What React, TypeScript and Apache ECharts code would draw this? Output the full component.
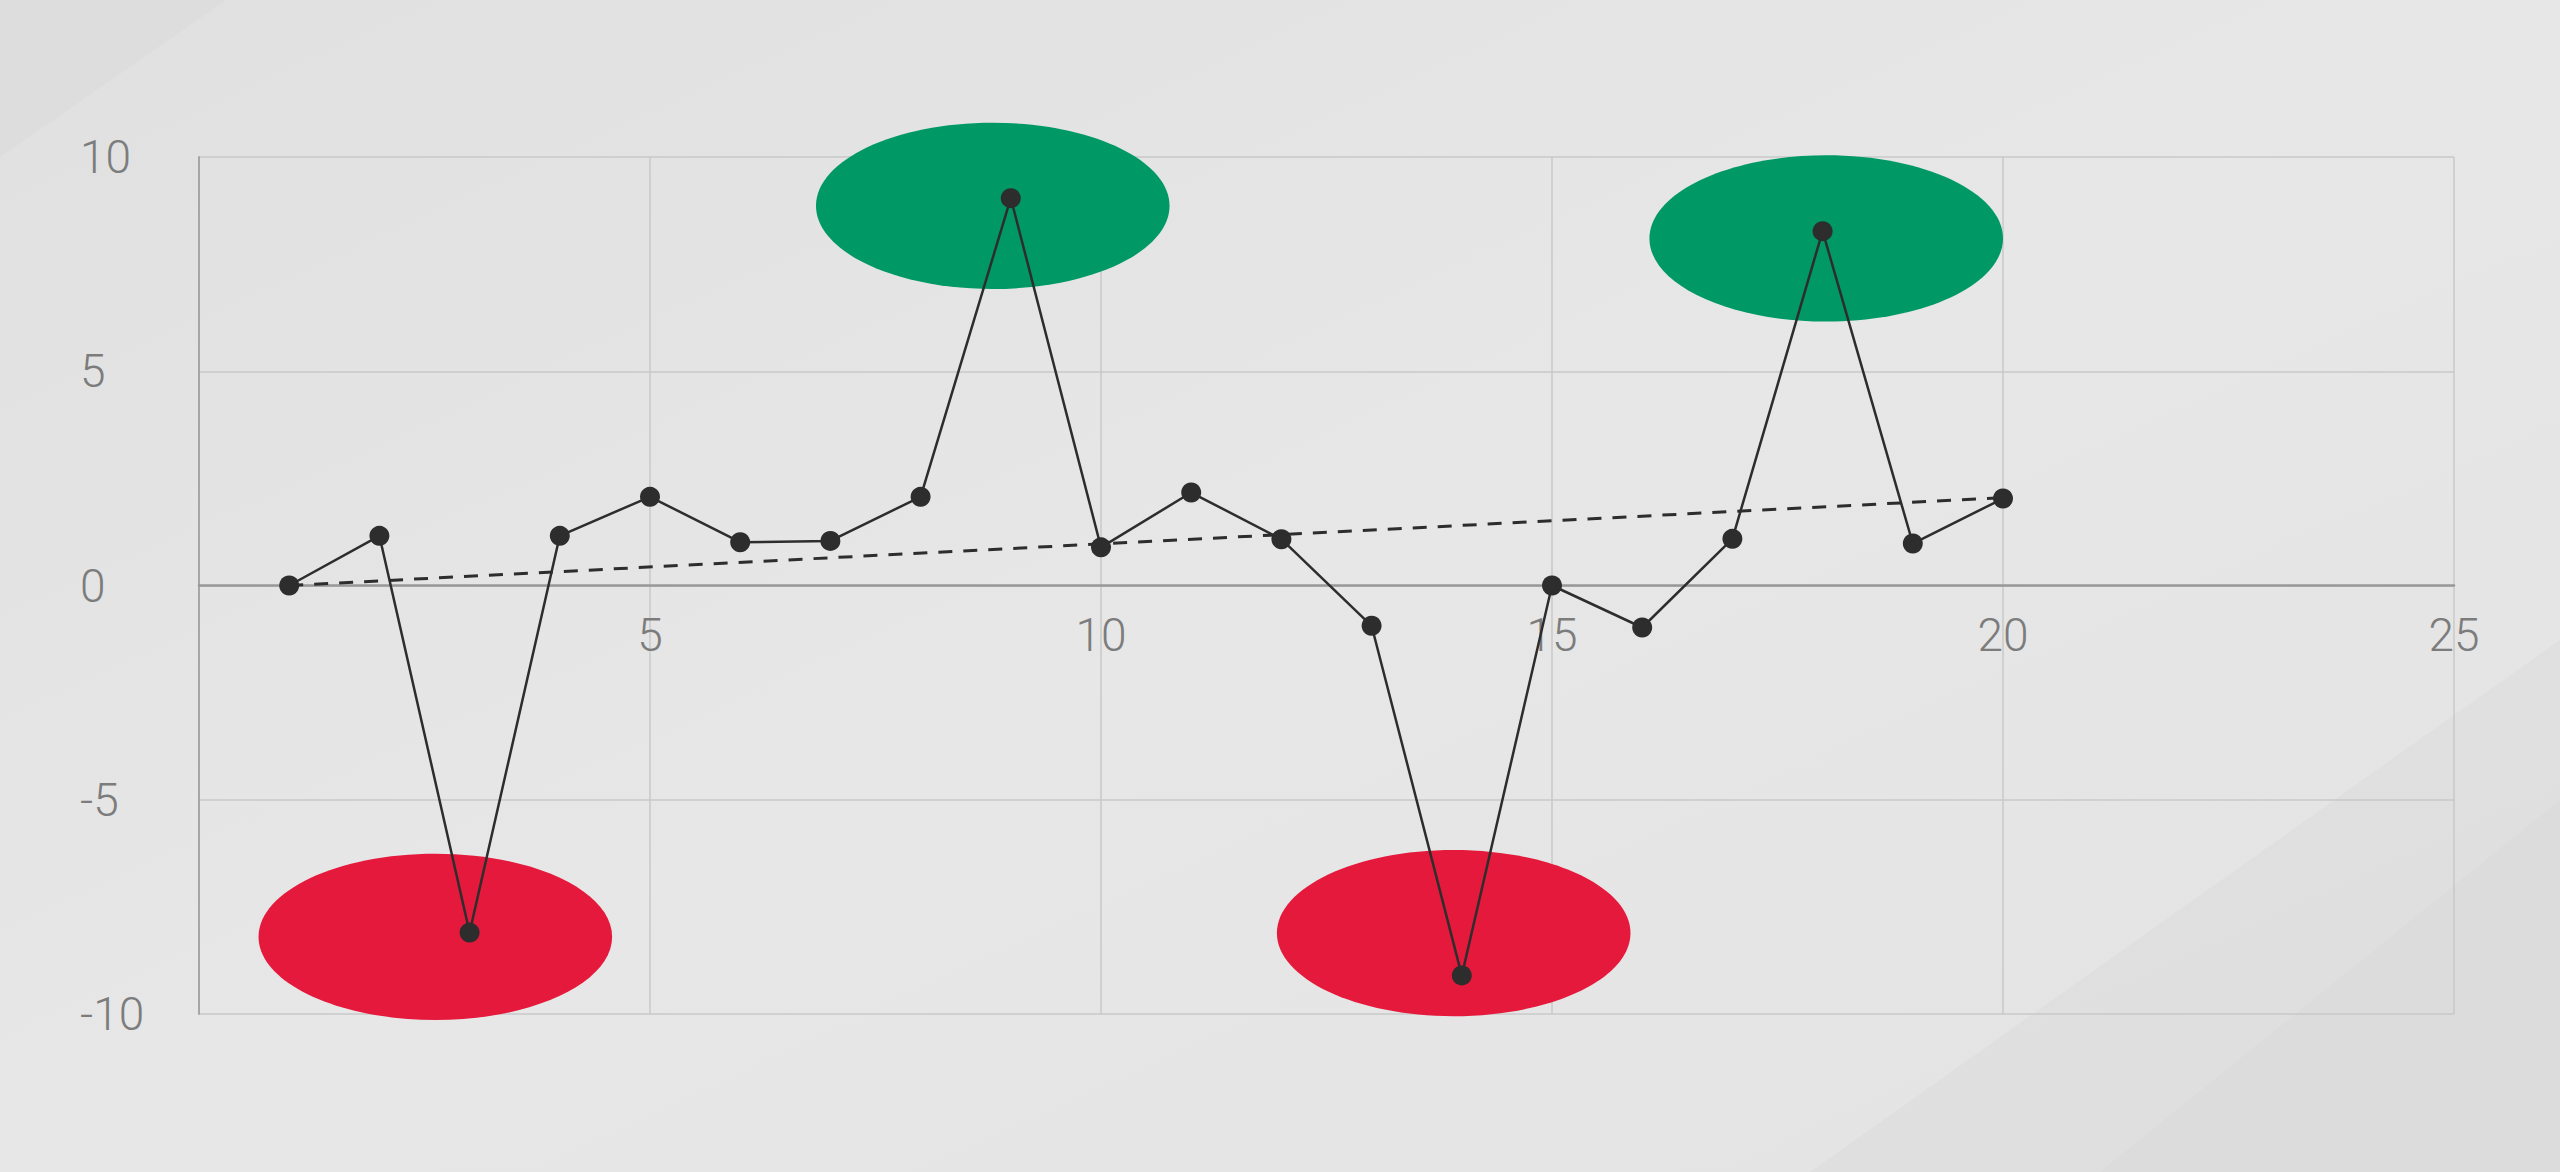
import React, { useEffect, useRef } from "react";
import * as echarts from "echarts";

// ---- data ----
const xValues = [1, 2, 3, 4, 5, 6, 7, 8, 9, 10, 11, 12, 13, 14, 15, 16, 17, 18, 19, 20];
const yValues = [0, 1.16, -8.1, 1.16, 2.07, 1.01, 1.04, 2.07, 9.04, 0.89, 2.17, 1.08, -0.94, -9.1, 0, -0.98, 1.09, 8.27, 0.98, 2.03];
const trendStart = [1, 0];
const trendEnd = [20, 2.05];
// highlight ellipses: [centerX, centerY, radiusX, radiusY] in data units
const highHighlights = [
  [8.8, 8.86, 1.96, 1.94],
  [18.04, 8.1, 1.96, 1.94],
];
const lowHighlights = [
  [2.62, -8.2, 1.96, 1.94],
  [13.91, -8.11, 1.96, 1.94],
];
const xTicks = [0, 5, 10, 15, 20, 25];
const yTicks = [-10, -5, 0, 5, 10];

const GREEN = "#009965";
const RED = "#e5193c";
const INK = "#2d2d2d";
const LABEL = "#7c7c7c";

function ellipseRender(color: string) {
  return (params: any, api: any) => {
    const c = api.coord([api.value(0), api.value(1)]);
    const s = api.size([api.value(2), api.value(3)]);
    return {
      type: "ellipse",
      shape: { cx: c[0], cy: c[1], rx: s[0], ry: s[1] },
      style: { fill: color },
    };
  };
}

export default function App() {
  const ref = useRef<HTMLDivElement>(null);
  useEffect(() => {
    if (!ref.current) return;
    const chart = echarts.init(ref.current, undefined, { renderer: "svg" });
    const W = 2560;
    const H = 1172;
    const gridTop = 157;
    const gridBottom = 158;
    const gridHeight = H - gridTop - gridBottom;
    const yMin = yTicks[0];
    const yMax = yTicks[yTicks.length - 1];
    // distance from the grid bottom to the zero line
    const zeroOffset = (gridHeight * (0 - yMin)) / (yMax - yMin);
    const labelFont = {
      fontFamily: "Roboto",
      fontWeight: 300,
      fontSize: 46,
      color: LABEL,
    };
    chart.setOption({
      animation: false,
      backgroundColor: {
        type: "linear",
        x: 0,
        y: 0,
        x2: 1,
        y2: 1,
        colorStops: [
          { offset: 0, color: "#e0e0e0" },
          { offset: 0.5, color: "#e7e7e7" },
          { offset: 1, color: "#e3e3e3" },
        ],
      },
      graphic: [
        {
          type: "polygon",
          z: -10,
          silent: true,
          shape: { points: [[0, 0], [226, 0], [0, 157]] },
          style: { fill: "#d9d9d9", opacity: 0.5 },
        },
        {
          type: "polygon",
          z: -10,
          silent: true,
          shape: { points: [[1810, H], [W, 640], [W, H]] },
          style: { fill: "#dcdcdc", opacity: 0.6 },
        },
        {
          type: "polygon",
          z: -10,
          silent: true,
          shape: { points: [[2100, H], [W, 800], [W, H]] },
          style: { fill: "#d8d8d8", opacity: 0.4 },
        },
      ],
      grid: { left: 199, right: 106, top: gridTop, bottom: gridBottom, containLabel: false },
      xAxis: {
        type: "value",
        min: xTicks[0],
        max: xTicks[xTicks.length - 1],
        interval: 5,
        position: "bottom",
        offset: -zeroOffset,
        axisLine: { show: true, onZero: false, lineStyle: { color: "#989898", width: 2.5 } },
        axisTick: { show: false },
        axisLabel: { ...labelFont, margin: 26, showMinLabel: false },
        splitLine: { show: true, lineStyle: { color: "#c8c8c8", width: 1.5 } },
      },
      yAxis: {
        type: "value",
        min: yMin,
        max: yMax,
        interval: 5,
        axisLine: { show: true, lineStyle: { color: "#a6a6a6", width: 2 } },
        axisTick: { show: false },
        axisLabel: { ...labelFont, margin: 119, align: "left" },
        splitLine: { show: true, lineStyle: { color: "#c8c8c8", width: 1.5 } },
      },
      series: [
        {
          type: "custom",
          z: 1,
          clip: false,
          renderItem: ellipseRender(GREEN),
          data: highHighlights,
          silent: true,
        },
        {
          type: "custom",
          z: 1,
          clip: false,
          renderItem: ellipseRender(RED),
          data: lowHighlights,
          silent: true,
        },
        {
          type: "line",
          z: 3,
          data: [trendStart, trendEnd],
          showSymbol: false,
          symbol: "none",
          lineStyle: { color: INK, width: 3, type: [14, 11] },
          silent: true,
        },
        {
          type: "line",
          z: 4,
          data: xValues.map((x, i) => [x, yValues[i]]),
          symbol: "circle",
          symbolSize: 20,
          itemStyle: { color: INK },
          lineStyle: { color: INK, width: 2.5 },
          silent: true,
        },
      ],
    });
    return () => chart.dispose();
  }, []);
  return (
    <div
      ref={ref}
      style={{ position: "fixed", left: 0, top: 0, width: "2560px", height: "1172px" }}
    />
  );
}
